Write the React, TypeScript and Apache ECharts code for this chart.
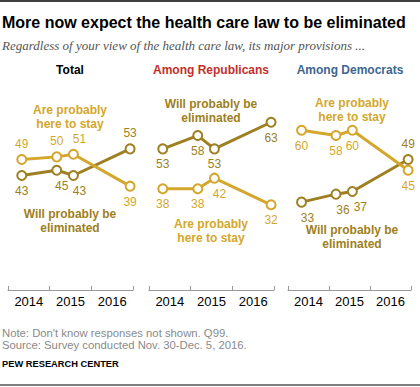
import React, { useEffect, useRef } from "react";
import * as echarts from "echarts";

const times = [2014.33, 2015.17, 2015.57, 2016.93];
const yearTicks = [2014, 2015, 2016, 2017];
const yearLabelPos = [2014.5, 2015.5, 2016.5];

const panels = ["Total", "Among Republicans", "Among Democrats"];
const stayValues = [
  [49, 50, 51, 39],
  [38, 38, 42, 32],
  [60, 58, 60, 45],
];
const elimValues = [
  [43, 45, 43, 53],
  [53, 58, 53, 63],
  [33, 36, 37, 49],
];
// label placement per point: "t" above, "b" below; second = x nudge
const stayLabelPos = [
  [["t", 0], ["t", 0], ["t", 6], ["b", 0]],
  [["b", 0], ["b", 0], ["b", 5], ["b", 0]],
  [["b", 0], ["b", 0], ["b", 0], ["b", 0]],
];
const elimLabelPos = [
  [["b", 0], ["b", 5], ["b", 6], ["t", 0]],
  [["b", 0], ["b", 0], ["b", 0], ["b", 0]],
  [["b", 6], ["b", 7], ["b", 8], ["t", 0]],
];

const STAY = "#D4A72C";
const ELIM = "#9E7F22";
const titleColors = ["#000000", "#C3302A", "#3D6690"];

const grids = [
  { left: 8, width: 125 },
  { left: 149, width: 125 },
  { left: 288, width: 123 },
];

function App() {
  const ref = useRef<HTMLDivElement>(null);
  useEffect(() => {
    const chart = echarts.init(ref.current!, null, { renderer: "svg" });
    const font = "'Liberation Sans', Arial, sans-serif";
    const mkData = (vals: number[], pos: any[]) =>
      vals.map((v, i) => ({
        value: [times[i], v],
        label: {
          position: pos[i][0] === "t" ? "top" : "bottom",
          offset: [pos[i][1], 0],
        },
      }));
    const series: any[] = [];
    panels.forEach((p, k) => {
      [
        { vals: stayValues[k], pos: stayLabelPos[k], color: STAY, name: "stay" },
        { vals: elimValues[k], pos: elimLabelPos[k], color: ELIM, name: "elim" },
      ].forEach((s) => {
        series.push({
          type: "line",
          name: s.name + k,
          xAxisIndex: k,
          yAxisIndex: k,
          data: mkData(s.vals, s.pos),
          symbol: "circle",
          symbolSize: 9,
          lineStyle: { color: s.color, width: 3 },
          itemStyle: { color: "#fff", borderColor: s.color, borderWidth: 2 },
          label: {
            show: true,
            color: s.color,
            fontSize: 12,
            fontFamily: font,
            distance: 4,
          },
          z: s.name === "stay" ? 3 : 2,
        });
      });
    });

    const centers = [70, 211, 350];
    const text = (x: number, y: number, t: string, style: any) => ({
      type: "text",
      x,
      y,
      style: { text: t, fontFamily: font, textAlign: "center", textVerticalAlign: "middle", ...style },
    });
    const ann = (x: number, y: number, t: string, color: string) =>
      text(x, y, t, { fill: color, fontSize: 12, fontWeight: "bold", lineHeight: 14 });

    const graphic: any[] = [
      { type: "line", shape: { x1: 0, y1: 1, x2: 420, y2: 1 }, style: { stroke: "#000", lineWidth: 1.5 } },
      { type: "line", shape: { x1: 0, y1: 385, x2: 420, y2: 385 }, style: { stroke: "#000", lineWidth: 1 } },
      {
        type: "text", x: 2, y: 22,
        style: { text: "More now expect the health care law to be eliminated", fontFamily: font, fontSize: 16, fontWeight: "bold", fill: "#000", textVerticalAlign: "middle" },
      },
      {
        type: "text", x: 2, y: 45,
        style: { text: "Regardless of your view of the health care law, its major provisions ...", fontFamily: "'Liberation Serif', 'Times New Roman', serif", fontStyle: "italic", fontSize: 13, fill: "#555", textVerticalAlign: "middle" },
      },
      ...panels.map((p, k) => text(centers[k], 70, p, { fill: titleColors[k], fontSize: 12, fontWeight: "bold" })),
      ann(70, 117, "Are probably\nhere to stay", STAY),
      ann(70, 221, "Will probably be\neliminated", ELIM),
      ann(211, 111, "Will probably be\neliminated", ELIM),
      ann(211, 231, "Are probably\nhere to stay", STAY),
      ann(352, 110, "Are probably\nhere to stay", STAY),
      ann(352, 237, "Will probably be\neliminated", ELIM),
      {
        type: "text", x: 2, y: 333,
        style: { text: "Note: Don't know responses not shown. Q99.", fontFamily: font, fontSize: 11.3, fill: "#8a8a8a", textVerticalAlign: "middle" },
      },
      {
        type: "text", x: 2, y: 345,
        style: { text: "Source: Survey conducted Nov. 30-Dec. 5, 2016.", fontFamily: font, fontSize: 11.3, fill: "#8a8a8a", textVerticalAlign: "middle" },
      },
      {
        type: "text", x: 2, y: 364,
        style: { text: "PEW RESEARCH CENTER", fontFamily: font, fontSize: 9.3, fontWeight: "bold", fill: "#000", textVerticalAlign: "middle" },
      },
    ];

    chart.setOption({
      animation: false,
      grid: grids.map((g) => ({ left: g.left, width: g.width, top: 77, height: 213 })),
      xAxis: grids.map((g, k) => ({
        type: "value",
        gridIndex: k,
        min: 2014,
        max: 2017,
        interval: 0.5,
        splitLine: { show: false },
        axisLine: { show: true, lineStyle: { color: "#999", width: 1 } },
        axisTick: { show: true, customValues: yearTicks, inside: true, length: 4, lineStyle: { color: "#999" } },
        axisLabel: {
          show: true,
          customValues: yearLabelPos,
          formatter: (v: number) => String(Math.floor(v)),
          color: "#000",
          fontSize: 13,
          fontFamily: font,
          margin: 5,
        },
      })),
      yAxis: grids.map((g, k) => ({
        type: "value",
        gridIndex: k,
        min: 0,
        max: 80,
        show: false,
        splitLine: { show: false },
      })),
      series,
      graphic,
    });
    return () => chart.dispose();
  }, []);
  return <div ref={ref} style={{ position: "fixed", left: 0, top: 0, width: 420, height: 387, background: "#fff" }} />;
}

export default App;
